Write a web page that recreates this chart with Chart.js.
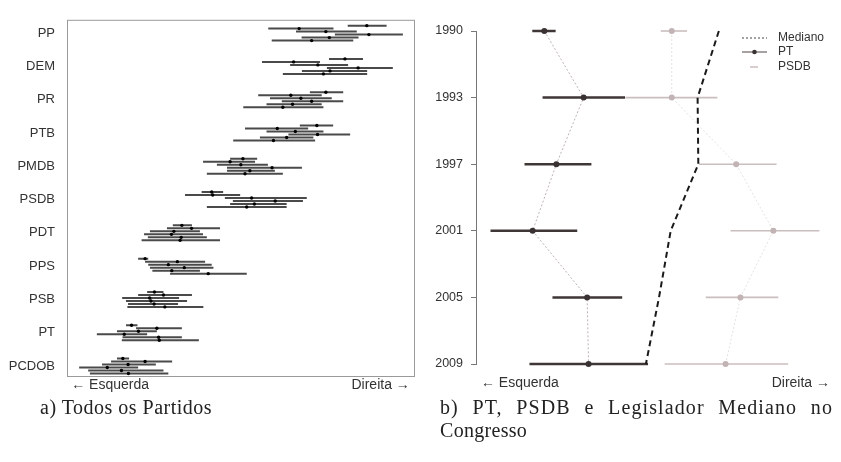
<!DOCTYPE html>
<html>
<head>
<meta charset="utf-8">
<script src="https://cdn.jsdelivr.net/npm/chart.js@4.4.0/dist/chart.umd.min.js"></script>
<style>
    body { margin: 0; background: #fff; width: 841px; height: 462px; position: relative; overflow: hidden; }
    #left { position: absolute; left: 0; top: 0; }
    #right { position: absolute; left: 420px; top: 0; }
    .cap { position: absolute; font-family: 'Liberation Serif', serif; font-size: 20px; letter-spacing: 0.5px; line-height: 22px; color: #222; white-space: nowrap; }
    #capA { left: 40px; top: 396px; }
    #capB { left: 440px; top: 396px; width: 393px; letter-spacing: 1.1px; text-align: justify; text-align-last: justify; }
    #capB2 { left: 440px; top: 419px; letter-spacing: 0.3px; }
</style>
</head>
<body>
<canvas id="left" width="420" height="400"></canvas>
<canvas id="right" width="421" height="400"></canvas>
<div class="cap" id="capA">a) Todos os Partidos</div>
<div class="cap" id="capB">b) PT, PSDB e Legislador Mediano no</div>
<div class="cap" id="capB2">Congresso</div>
<script>
//--- Data (left panel: one row per party, one column per legislature)
const parties = ['PP', 'DEM', 'PR', 'PTB', 'PMDB', 'PSDB', 'PDT', 'PPS', 'PSB', 'PT', 'PCDOB'];
const years = ['1990', '1993', '1997', '2001', '2005', '2009'];
const axisEnds = ['\u2190 Esquerda', 'Direita \u2192'];

const partyEst = [
    [86.4, 66.9, 74.6, 87.0, 75.6, 70.5],
    [80.1, 65.3, 72.3, 83.9, 75.8, 73.9],
    [74.6, 64.5, 67.4, 70.5, 65.0, 62.2],
    [72.0, 60.6, 65.8, 72.2, 63.3, 59.5],
    [50.7, 47.0, 50.1, 59.1, 52.7, 51.3],
    [41.7, 42.0, 53.2, 60.0, 54.0, 51.8],
    [33.1, 35.9, 30.8, 30.1, 32.9, 32.6],
    [22.5, 31.8, 29.2, 33.8, 30.2, 40.7],
    [25.2, 27.8, 23.8, 24.2, 25.1, 28.2],
    [18.6, 25.9, 20.6, 16.5, 26.4, 26.6],
    [16.1, 22.5, 17.6, 11.6, 15.7, 17.7]
];
const partyLow = [
    [80.9, 58.0, 66.0, 77.2, 67.6, 59.0],
    [75.5, 56.2, 64.3, 74.9, 67.7, 62.2],
    [70.0, 55.1, 58.5, 61.9, 57.5, 50.8],
    [67.1, 51.3, 57.5, 63.8, 55.6, 47.9],
    [47.0, 39.2, 43.2, 46.1, 46.1, 40.3],
    [38.8, 34.0, 45.5, 47.8, 47.0, 40.3],
    [30.5, 28.8, 23.9, 22.2, 23.3, 21.5],
    [20.5, 22.5, 23.4, 23.9, 24.6, 29.7],
    [23.1, 20.5, 15.9, 17.0, 17.6, 17.4],
    [17.0, 19.9, 14.4, 8.6, 16.0, 15.8],
    [14.4, 12.7, 10.1, 3.5, 6.1, 6.6]
];
const partyHigh = [
    [92.1, 76.8, 83.5, 96.8, 84.0, 82.5],
    [85.3, 72.9, 81.0, 93.9, 86.5, 86.5],
    [79.6, 73.4, 76.3, 79.6, 73.4, 73.9],
    [76.7, 69.5, 73.9, 81.6, 71.0, 71.5],
    [54.8, 54.2, 57.9, 67.7, 59.9, 62.2],
    [45.0, 49.9, 69.1, 68.0, 63.3, 63.3],
    [36.0, 44.1, 38.3, 39.2, 40.3, 44.1],
    [23.4, 39.8, 41.7, 42.2, 38.3, 51.8],
    [27.8, 36.0, 32.3, 34.6, 32.0, 39.3],
    [20.3, 33.1, 25.9, 23.1, 33.1, 38.0],
    [17.9, 30.3, 25.6, 20.5, 27.8, 29.2]
];

//--- Data (right panel)
const ptEst = [19.3, 30.4, 22.7, 16.0, 31.4, 31.8];
const ptLow = [15.9, 18.8, 13.7, 4.1, 21.6, 15.1];
const ptHigh = [22.5, 42.1, 32.6, 28.6, 41.3, 48.6];
const psdbEst = [55.3, 55.3, 73.5, 84.0, 74.7, 70.5];
const psdbLow = [52.2, 42.2, 63.0, 71.9, 64.9, 53.3];
const psdbHigh = [59.6, 68.2, 84.9, 97.0, 85.4, 88.2];
const medianEst = [68.6, 62.6, 62.8, 55.0, 51.7, 48.0];
const legendLabels = ['Mediano', 'PT', 'PSDB'];

const sans = 'Liberation Sans, Arial, sans-serif';

//--- ends of the ideological axis as the only two ticks
function endTicks(inL, inR) {
    return function (scale) {
        scale.ticks = [{ value: scale.min + inL }, { value: scale.max - inR }];
    };
}
function endLabel(v, i) {
    return axisEnds[i];
}

//--- Left chart: every party, every legislature
var leftSets = [];
var estPoints = [];
parties.forEach(function (p, i) {
    years.forEach(function (yr, j) {
        var pos = i + (j - 2.5) * 0.09;
        estPoints.push({ x: partyEst[i][j], y: pos });
        leftSets.push({
            data: [{ x: partyLow[i][j], y: pos }, { x: partyHigh[i][j], y: pos }],
            showLine: true,
            borderColor: '#4a4a4a',
            borderWidth: 2,
            pointRadius: 0
        });
    });
});
// points first so they sit on top of the bars
leftSets.unshift({ data: estPoints, pointRadius: 1.7, backgroundColor: '#000', borderWidth: 0 });

var framePlugin = {
    id: 'frame',
    afterDraw: function (chart) {
        var a = chart.chartArea, ctx = chart.ctx;
        ctx.save();
        ctx.strokeStyle = '#9a9a9a';
        ctx.lineWidth = 1;
        ctx.strokeRect(a.left + 0.5, a.top + 0.5, a.right - a.left, a.bottom - a.top);
        ctx.restore();
    }
};

new Chart(document.getElementById('left'), {
    type: 'scatter',
    data: { datasets: leftSets },
    plugins: [framePlugin],
    options: {
        responsive: false,
        animation: false,
        layout: { padding: { top: 19, right: 6, left: 0, bottom: 0 } },
        plugins: { legend: { display: false }, tooltip: { enabled: false } },
        scales: {
            x: {
                type: 'linear', min: 0, max: 100,
                grid: { display: false, drawTicks: false },
                border: { display: false },
                afterBuildTicks: endTicks(1.2, 1.2),
                afterFit: function (s) { s.height = 400 - 376; },
                ticks: { autoSkip: false, maxRotation: 0, align: 'inner', padding: 1, color: '#333', font: { family: sans, size: 14 }, callback: endLabel }
            },
            y: {
                type: 'linear', reverse: true, min: -0.4, max: 10.3,
                grid: { display: false, drawTicks: false },
                border: { display: false },
                afterBuildTicks: function (s) { s.ticks = parties.map(function (p, i) { return { value: i }; }); },
                afterFit: function (s) { s.width = 67; },
                ticks: { autoSkip: false, padding: 12, color: '#333', font: { family: sans, size: 13 }, callback: function (v) { return parties[v]; } }
            }
        }
    }
});

//--- Right chart: PT, PSDB and median legislator
function barSets(low, high, color, width) {
    return years.map(function (yr, j) {
        return {
            data: [{ x: low[j], y: j }, { x: high[j], y: j }],
            showLine: true, borderColor: color, borderWidth: width, pointRadius: 0, clip: false
        };
    });
}
function track(values) {
    return values.map(function (v, j) { return { x: v, y: j }; });
}

var rightSets = [
    { data: track(ptEst), showLine: true, borderColor: '#bdb3b3', borderWidth: 1, borderDash: [2, 2],
      pointRadius: 3, pointBackgroundColor: '#3a3232', pointBorderWidth: 0, clip: false },
    { data: track(medianEst), showLine: true, borderColor: '#1a1a1a', borderWidth: 2, borderDash: [6, 4],
      pointRadius: 0, clip: false },
    { data: track(psdbEst), showLine: true, borderColor: '#e6e0e0', borderWidth: 1, borderDash: [2, 2],
      pointRadius: 3, pointBackgroundColor: '#c2b4b4', pointBorderWidth: 0, clip: false }
].concat(barSets(ptLow, ptHigh, '#3f3636', 2.5), barSets(psdbLow, psdbHigh, '#cbbebe', 1.6));

var legendPlugin = {
    id: 'sideLegend',
    afterDraw: function (chart) {
        var ctx = chart.ctx, x0 = 322, x1 = 347, tx = 358, ys = [38, 52, 67];
        ctx.save();
        ctx.lineWidth = 1;
        ctx.strokeStyle = '#444';
        ctx.setLineDash([2, 2]);
        ctx.beginPath(); ctx.moveTo(x0, ys[0]); ctx.lineTo(x1, ys[0]); ctx.stroke();
        ctx.setLineDash([]);
        ctx.strokeStyle = '#8a8282';
        ctx.lineWidth = 1.5;
        ctx.beginPath(); ctx.moveTo(x0, ys[1]); ctx.lineTo(x1, ys[1]); ctx.stroke();
        ctx.fillStyle = '#3a3232';
        ctx.beginPath(); ctx.arc((x0 + x1) / 2, ys[1], 2.3, 0, Math.PI * 2); ctx.fill();
        ctx.strokeStyle = '#cbbebe';
        ctx.beginPath(); ctx.moveTo(x0 + 8, ys[2]); ctx.lineTo(x1 - 9, ys[2]); ctx.stroke();
        ctx.fillStyle = '#333';
        ctx.font = '12px ' + sans;
        ctx.textBaseline = 'middle';
        legendLabels.forEach(function (t, i) { ctx.fillText(t, tx, ys[i]); });
        ctx.restore();
    }
};

new Chart(document.getElementById('right'), {
    type: 'scatter',
    data: { datasets: rightSets },
    plugins: [legendPlugin],
    options: {
        responsive: false,
        animation: false,
        layout: { padding: { top: 31, right: 7, left: 0, bottom: 0 } },
        plugins: { legend: { display: false }, tooltip: { enabled: false } },
        scales: {
            x: {
                type: 'linear', min: 0, max: 100,
                grid: { display: false, drawTicks: false },
                border: { display: false },
                afterBuildTicks: endTicks(1.4, 0),
                afterFit: function (s) { s.height = 400 - 364; },
                ticks: { autoSkip: false, maxRotation: 0, align: 'inner', padding: 11, color: '#333', font: { family: sans, size: 14 }, callback: endLabel }
            },
            y: {
                type: 'linear', reverse: true, min: 0, max: 5,
                grid: { display: true, drawOnChartArea: false, drawTicks: true, tickLength: 5, color: '#777' },
                border: { display: true, color: '#777', width: 1 },
                afterBuildTicks: function (s) { s.ticks = years.map(function (y, i) { return { value: i }; }); },
                afterFit: function (s) { s.width = 56; },
                ticks: { autoSkip: false, padding: 8, color: '#333', font: { family: sans, size: 12.5 }, callback: function (v) { return years[v]; } }
            }
        }
    }
});
</script>
</body>
</html>
